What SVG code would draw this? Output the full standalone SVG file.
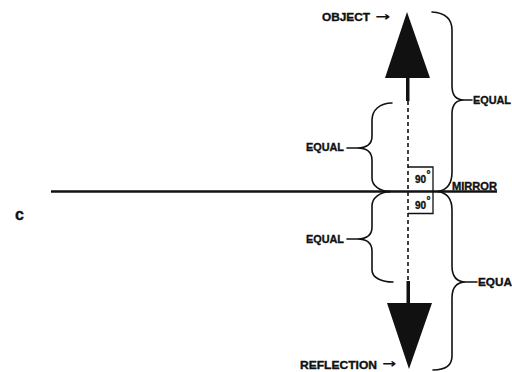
<svg xmlns="http://www.w3.org/2000/svg" width="512" height="372" viewBox="0 0 512 372">
<style>
.lbl{font-family:"Liberation Sans","DejaVu Sans",Arial,sans-serif;font-weight:bold;fill:#111;stroke:#111;stroke-width:0.35}
.arr{font-family:"DejaVu Sans",sans-serif;font-weight:bold;fill:#111}
.brace{fill:none;stroke:#111;stroke-width:1.6;stroke-linecap:round}
.box{fill:none;stroke:#111;stroke-width:1.3}
</style>
<rect width="512" height="372" fill="#fff"/>
<g id="mirror">
<line x1="51" y1="191.5" x2="497" y2="191.5" stroke="#111" stroke-width="2.6"/>
<text class="lbl" x="452" y="189.5" font-size="10" textLength="45" lengthAdjust="spacingAndGlyphs">MIRROR</text>
</g>
<g id="label-c"><text class="lbl" x="15" y="220" font-size="16">c</text></g>
<g id="object">
<polygon points="407,12 385,78 430,78" fill="#111"/>
<rect x="406" y="77" width="3.5" height="24" fill="#111"/>
<text class="lbl" x="322" y="21" font-size="10.5" textLength="48" lengthAdjust="spacingAndGlyphs">OBJECT</text>
<text class="arr" x="375" y="21" font-size="13" textLength="15" lengthAdjust="spacingAndGlyphs">→</text>
</g>
<g id="reflection">
<polygon points="387,303 432,303 409,369" fill="#111"/>
<rect x="406.5" y="281" width="3.5" height="23" fill="#111"/>
<text class="lbl" x="300" y="369" font-size="10.5" textLength="77" lengthAdjust="spacingAndGlyphs">REFLECTION</text>
<text class="arr" x="382" y="368" font-size="13" textLength="14" lengthAdjust="spacingAndGlyphs">→</text>
</g>
<g id="right-angles">
<polyline class="box" points="408,167 433,167 433,191"/>
<polyline class="box" points="433,191 433,213.5 408,213.5"/>
<text class="lbl" x="415" y="183" font-size="10">90</text>
<text class="lbl" x="426.5" y="178" font-size="10">°</text>
<text class="lbl" x="415" y="209" font-size="10">90</text>
<text class="lbl" x="426.5" y="204" font-size="10">°</text>
</g>
<g id="braces">
<path class="brace" d="M432,12 C446,13 452,20 452,30 L452,86 C452,95 456,100 464,100 L472,100 M464,100 C456,100 452,105 452,114 L452,172 C452,184 447,190 438,191.5"/>
<path class="brace" d="M438,191.5 C447,193 452,199 452,210 L452,266 C452,276 456,282 466,282 L477,282 M466,282 C456,282 452,288 452,298 L452,356 C452,366 444,370 433,370"/>
<path class="brace" d="M392,103 C380,103 372,110 372,120 L372,136 C372,144 367,148 357,148 L347,148 M357,148 C367,148 372,152 372,160 L372,178 C372,186 380,191 390,191.5"/>
<path class="brace" d="M390,191.5 C380,192 372,198 372,206 L372,227 C372,235 367,239 357,239 L347,239 M357,239 C367,239 372,243 372,251 L372,270 C372,278 382,282 393,282"/>
<text class="lbl" x="306" y="151" font-size="11" textLength="38" lengthAdjust="spacingAndGlyphs">EQUAL</text>
<text class="lbl" x="306" y="243" font-size="11" textLength="38" lengthAdjust="spacingAndGlyphs">EQUAL</text>
<text class="lbl" x="473" y="104" font-size="11" textLength="38" lengthAdjust="spacingAndGlyphs">EQUAL</text>
<text class="lbl" x="478" y="286" font-size="11" textLength="34" lengthAdjust="spacingAndGlyphs">EQUA</text>
</g>
<g id="connectors">
<line x1="408" y1="101" x2="408" y2="281" stroke="#111" stroke-width="1.6" stroke-dasharray="4,3"/>
</g>
</svg>
